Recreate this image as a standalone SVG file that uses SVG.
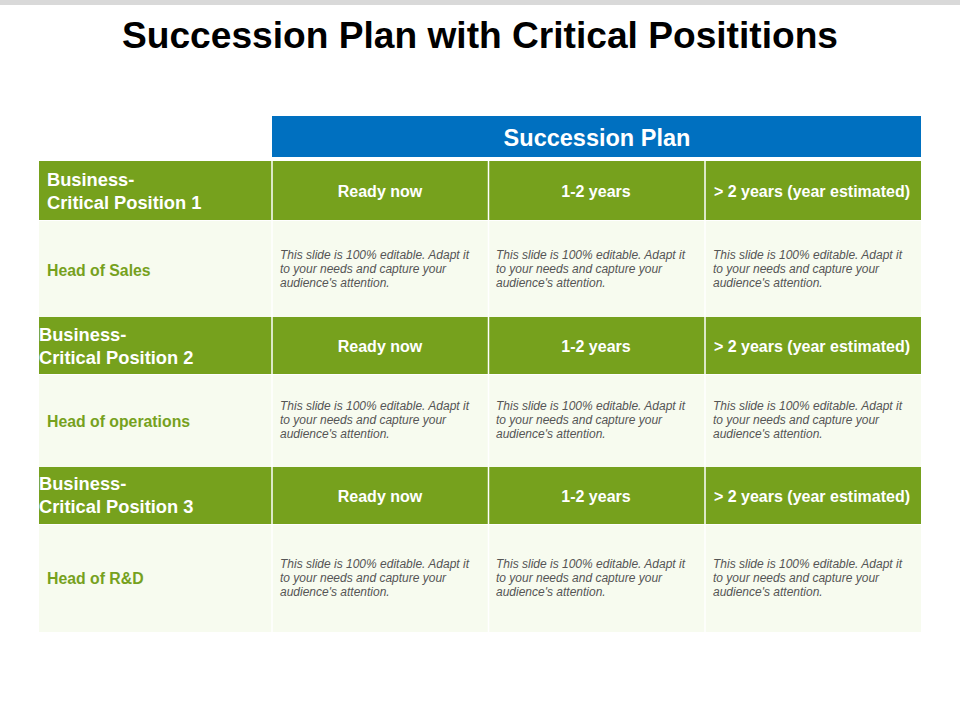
<svg xmlns="http://www.w3.org/2000/svg" width="960" height="720" viewBox="0 0 960 720">
<style>
.g{fill:#76a11d}
.b{fill:#f7fbef}
.hd{font-family:"Liberation Sans",Arial,sans-serif;font-weight:bold;fill:#fff}
.pos{font-size:18.3px}
.col{font-size:16px;text-anchor:middle}
.role{font-family:"Liberation Sans",Arial,sans-serif;font-weight:bold;font-size:15.8px;fill:#76a11d}
.txt{font-family:"Liberation Sans",Arial,sans-serif;font-style:italic;font-size:12px;fill:#555}
.div{stroke:#fff;stroke-width:1.5}
</style>
<rect x="0" y="0" width="960" height="5" fill="#d9d9d9"/>
<text x="480" y="48" text-anchor="middle" font-family="'Liberation Sans',Arial,sans-serif" font-weight="bold" font-size="36" fill="#000" textLength="716" lengthAdjust="spacingAndGlyphs">Succession Plan with Critical Posititions</text>

<g id="header">
<rect x="272" y="116" width="649" height="41" fill="#0070c0"/>
<text x="597" y="146" class="hd" font-size="23.5" text-anchor="middle">Succession Plan</text>
</g>

<g id="position1">
<rect x="39" y="161" width="882" height="59" class="g"/>
<line x1="272" y1="161" x2="272" y2="220" class="div"/>
<line x1="488.5" y1="161" x2="488.5" y2="220" class="div"/>
<line x1="705" y1="161" x2="705" y2="220" class="div"/>
<text x="47" y="186" class="hd pos">Business-</text>
<text x="47" y="209" class="hd pos">Critical Position 1</text>
<text x="380" y="197" class="hd col">Ready now</text>
<text x="596" y="197" class="hd col">1-2 years</text>
<text x="812" y="197" class="hd col">&gt; 2 years (year estimated)</text>
</g>
<g id="row1">
<rect x="39" y="221" width="882" height="96" class="b"/>
<line x1="272" y1="221" x2="272" y2="317" class="div"/>
<line x1="488.5" y1="221" x2="488.5" y2="317" class="div"/>
<line x1="705" y1="221" x2="705" y2="317" class="div"/>
<text x="47" y="276" class="role">Head of  Sales</text>
<text class="txt" y="259"><tspan x="280">This slide is 100% editable. Adapt it</tspan><tspan x="280" dy="14">to your needs and capture your</tspan><tspan x="280" dy="14">audience's attention.</tspan></text>
<text class="txt" y="259"><tspan x="496">This slide is 100% editable. Adapt it</tspan><tspan x="496" dy="14">to your needs and capture your</tspan><tspan x="496" dy="14">audience's attention.</tspan></text>
<text class="txt" y="259"><tspan x="713">This slide is 100% editable. Adapt it</tspan><tspan x="713" dy="14">to your needs and capture your</tspan><tspan x="713" dy="14">audience's attention.</tspan></text>
</g>

<g id="position2">
<rect x="39" y="317" width="882" height="57" class="g"/>
<line x1="272" y1="317" x2="272" y2="374" class="div"/>
<line x1="488.5" y1="317" x2="488.5" y2="374" class="div"/>
<line x1="705" y1="317" x2="705" y2="374" class="div"/>
<text x="39" y="341" class="hd pos">Business-</text>
<text x="39" y="364" class="hd pos">Critical Position 2</text>
<text x="380" y="352" class="hd col">Ready now</text>
<text x="596" y="352" class="hd col">1-2 years</text>
<text x="812" y="352" class="hd col">&gt; 2 years (year estimated)</text>
</g>
<g id="row2">
<rect x="39" y="375" width="882" height="92" class="b"/>
<line x1="272" y1="375" x2="272" y2="467" class="div"/>
<line x1="488.5" y1="375" x2="488.5" y2="467" class="div"/>
<line x1="705" y1="375" x2="705" y2="467" class="div"/>
<text x="47" y="427" class="role">Head of operations</text>
<text class="txt" y="410"><tspan x="280">This slide is 100% editable. Adapt it</tspan><tspan x="280" dy="14">to your needs and capture your</tspan><tspan x="280" dy="14">audience's attention.</tspan></text>
<text class="txt" y="410"><tspan x="496">This slide is 100% editable. Adapt it</tspan><tspan x="496" dy="14">to your needs and capture your</tspan><tspan x="496" dy="14">audience's attention.</tspan></text>
<text class="txt" y="410"><tspan x="713">This slide is 100% editable. Adapt it</tspan><tspan x="713" dy="14">to your needs and capture your</tspan><tspan x="713" dy="14">audience's attention.</tspan></text>
</g>

<g id="position3">
<rect x="39" y="467" width="882" height="57" class="g"/>
<line x1="272" y1="467" x2="272" y2="524" class="div"/>
<line x1="488.5" y1="467" x2="488.5" y2="524" class="div"/>
<line x1="705" y1="467" x2="705" y2="524" class="div"/>
<text x="39" y="490" class="hd pos">Business-</text>
<text x="39" y="513" class="hd pos">Critical Position 3</text>
<text x="380" y="502" class="hd col">Ready now</text>
<text x="596" y="502" class="hd col">1-2 years</text>
<text x="812" y="502" class="hd col">&gt; 2 years (year estimated)</text>
</g>
<g id="row3">
<rect x="39" y="525" width="882" height="107" class="b"/>
<line x1="272" y1="525" x2="272" y2="632" class="div"/>
<line x1="488.5" y1="525" x2="488.5" y2="632" class="div"/>
<line x1="705" y1="525" x2="705" y2="632" class="div"/>
<text x="47" y="584" class="role">Head of R&amp;D</text>
<text class="txt" y="568"><tspan x="280">This slide is 100% editable. Adapt it</tspan><tspan x="280" dy="14">to your needs and capture your</tspan><tspan x="280" dy="14">audience's attention.</tspan></text>
<text class="txt" y="568"><tspan x="496">This slide is 100% editable. Adapt it</tspan><tspan x="496" dy="14">to your needs and capture your</tspan><tspan x="496" dy="14">audience's attention.</tspan></text>
<text class="txt" y="568"><tspan x="713">This slide is 100% editable. Adapt it</tspan><tspan x="713" dy="14">to your needs and capture your</tspan><tspan x="713" dy="14">audience's attention.</tspan></text>
</g>
<g id="connectors"/>
</svg>
